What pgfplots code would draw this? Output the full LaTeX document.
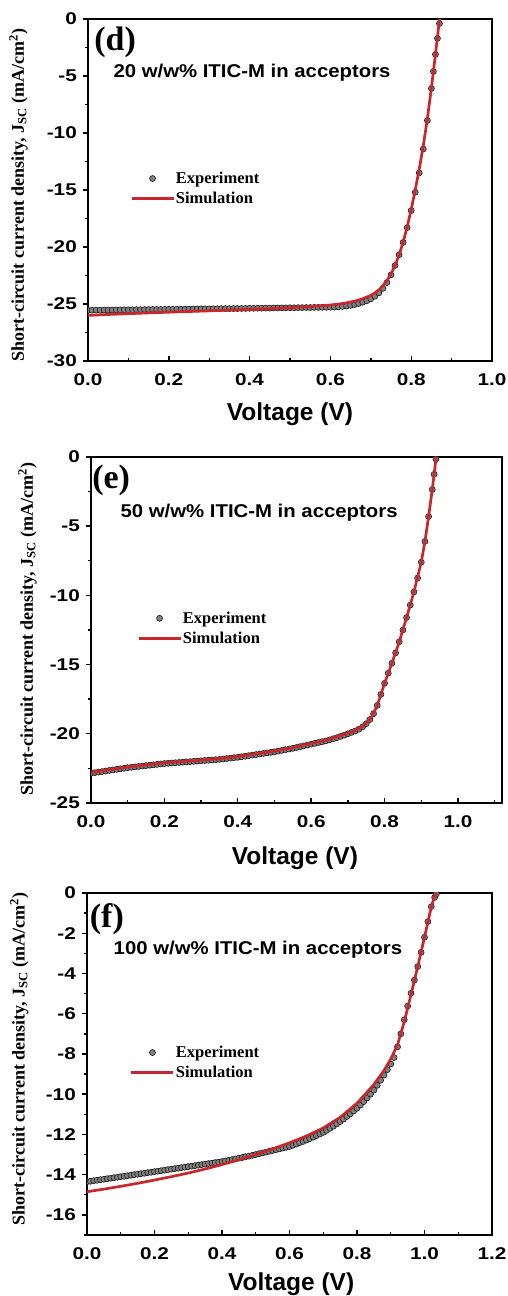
\documentclass[border=0pt]{standalone}
\usepackage{fontspec}
\setmainfont{Liberation Serif}
\newfontfamily\ticksf[FakeStretch=1.22]{Liberation Sans}
\newfontfamily\annsf[FakeStretch=1.1]{Liberation Sans}
\newfontfamily\labsf{Liberation Sans}
\usepackage{pgfplots}
\usepackage{pgfplotstable}
\pgfplotsset{compat=1.18}
\definecolor{simred}{RGB}{200,40,45}

% ---------- panel (d) ----------
\pgfplotstableread{
V J
0.00 -25.55
0.01 -25.55
0.02 -25.54
0.03 -25.54
0.04 -25.53
0.05 -25.53
0.06 -25.53
0.07 -25.52
0.08 -25.52
0.09 -25.51
0.10 -25.51
0.11 -25.51
0.12 -25.50
0.13 -25.50
0.14 -25.49
0.15 -25.49
0.16 -25.48
0.17 -25.48
0.18 -25.48
0.19 -25.47
0.20 -25.47
0.21 -25.46
0.22 -25.46
0.23 -25.46
0.24 -25.45
0.25 -25.45
0.26 -25.44
0.27 -25.44
0.28 -25.43
0.29 -25.43
0.30 -25.43
0.31 -25.42
0.32 -25.42
0.33 -25.41
0.34 -25.41
0.35 -25.41
0.36 -25.40
0.37 -25.40
0.38 -25.39
0.39 -25.39
0.40 -25.38
0.41 -25.38
0.42 -25.37
0.43 -25.37
0.44 -25.36
0.45 -25.36
0.46 -25.35
0.47 -25.35
0.48 -25.34
0.49 -25.34
0.50 -25.33
0.51 -25.33
0.52 -25.32
0.53 -25.32
0.54 -25.31
0.55 -25.31
0.56 -25.30
0.57 -25.30
0.58 -25.29
0.59 -25.29
0.60 -25.28
0.61 -25.27
0.62 -25.25
0.63 -25.22
0.64 -25.18
0.65 -25.12
0.66 -25.05
0.67 -24.96
0.68 -24.85
0.69 -24.72
0.70 -24.55
0.71 -24.32
0.72 -24.02
0.73 -23.63
0.74 -23.12
0.75 -22.45
0.76 -21.62
0.77 -20.68
0.78 -19.60
0.79 -18.30
0.80 -16.80
0.81 -15.20
0.82 -13.50
0.83 -11.40
0.84 -8.90
0.85 -6.10
0.855 -4.60
0.86 -3.10
0.865 -1.70
0.87 -0.40
}\expD
\pgfplotstableread{
V J
0.00 -26.00
0.05 -25.92
0.10 -25.85
0.15 -25.78
0.20 -25.72
0.25 -25.66
0.30 -25.60
0.35 -25.54
0.40 -25.48
0.45 -25.41
0.50 -25.33
0.55 -25.23
0.60 -25.09
0.62 -25.01
0.64 -24.90
0.66 -24.75
0.68 -24.54
0.70 -24.24
0.71 -24.03
0.72 -23.76
0.73 -23.40
0.74 -22.94
0.75 -22.36
0.76 -21.62
0.77 -20.70
0.78 -19.58
0.79 -18.24
0.80 -16.70
0.81 -15.00
0.82 -13.15
0.83 -11.10
0.84 -8.75
0.85 -6.05
0.86 -3.10
0.87 -0.05
0.8702 0.00
}\simD
% ---------- panel (e) ----------
\pgfplotstableread{
V J
0.00 -22.85
0.01 -22.81
0.02 -22.77
0.03 -22.73
0.04 -22.69
0.05 -22.65
0.06 -22.61
0.07 -22.57
0.08 -22.53
0.09 -22.49
0.10 -22.45
0.11 -22.42
0.12 -22.39
0.13 -22.36
0.14 -22.33
0.15 -22.30
0.16 -22.27
0.17 -22.24
0.18 -22.21
0.19 -22.18
0.20 -22.15
0.21 -22.13
0.22 -22.11
0.23 -22.09
0.24 -22.07
0.25 -22.05
0.26 -22.03
0.27 -22.01
0.28 -21.99
0.29 -21.97
0.30 -21.95
0.31 -21.93
0.32 -21.91
0.33 -21.89
0.34 -21.87
0.35 -21.85
0.36 -21.82
0.37 -21.79
0.38 -21.76
0.39 -21.73
0.40 -21.70
0.41 -21.66
0.42 -21.62
0.43 -21.58
0.44 -21.54
0.45 -21.50
0.46 -21.46
0.47 -21.42
0.48 -21.38
0.49 -21.34
0.50 -21.30
0.51 -21.25
0.52 -21.20
0.53 -21.15
0.54 -21.10
0.55 -21.05
0.56 -20.99
0.57 -20.93
0.58 -20.87
0.59 -20.81
0.60 -20.75
0.61 -20.69
0.62 -20.63
0.63 -20.57
0.64 -20.51
0.65 -20.44
0.66 -20.36
0.67 -20.28
0.68 -20.19
0.69 -20.10
0.70 -20.00
0.71 -19.90
0.72 -19.80
0.73 -19.67
0.74 -19.50
0.75 -19.27
0.76 -18.97
0.77 -18.55
0.78 -17.95
0.79 -17.15
0.80 -16.35
0.81 -15.62
0.82 -14.90
0.83 -14.15
0.84 -13.35
0.85 -12.50
0.86 -11.60
0.87 -10.70
0.88 -9.75
0.89 -8.75
0.90 -7.60
0.91 -6.10
0.92 -4.30
0.93 -2.35
0.935 -1.25
0.94 -0.15
}\expE
\pgfplotstableread{
V J
0.00 -22.80
0.05 -22.60
0.10 -22.40
0.15 -22.25
0.20 -22.10
0.25 -22.00
0.30 -21.90
0.35 -21.80
0.40 -21.65
0.45 -21.45
0.50 -21.25
0.55 -21.00
0.60 -20.70
0.65 -20.40
0.70 -19.96
0.72 -19.76
0.74 -19.47
0.76 -18.95
0.77 -18.53
0.78 -17.94
0.79 -17.15
0.80 -16.35
0.82 -14.90
0.84 -13.35
0.86 -11.60
0.88 -9.75
0.90 -7.60
0.91 -6.10
0.92 -4.30
0.93 -2.35
0.94 -0.15
0.9402 0.00
}\simE
% ---------- panel (f) ----------
\pgfplotstableread{
V J
0.00 -14.35
0.01 -14.33
0.02 -14.30
0.03 -14.28
0.04 -14.25
0.05 -14.23
0.06 -14.20
0.07 -14.18
0.08 -14.15
0.09 -14.13
0.10 -14.10
0.11 -14.08
0.12 -14.05
0.13 -14.03
0.14 -14.00
0.15 -13.98
0.16 -13.95
0.17 -13.93
0.18 -13.90
0.19 -13.88
0.20 -13.85
0.21 -13.83
0.22 -13.80
0.23 -13.78
0.24 -13.75
0.25 -13.73
0.26 -13.70
0.27 -13.68
0.28 -13.65
0.29 -13.63
0.30 -13.60
0.31 -13.58
0.32 -13.55
0.33 -13.53
0.34 -13.50
0.35 -13.48
0.36 -13.45
0.37 -13.43
0.38 -13.40
0.39 -13.38
0.40 -13.35
0.41 -13.32
0.42 -13.29
0.43 -13.25
0.44 -13.22
0.45 -13.18
0.46 -13.15
0.47 -13.11
0.48 -13.08
0.49 -13.04
0.50 -13.00
0.51 -12.96
0.52 -12.92
0.53 -12.88
0.54 -12.84
0.55 -12.80
0.56 -12.76
0.57 -12.72
0.58 -12.68
0.59 -12.64
0.60 -12.60
0.61 -12.54
0.62 -12.48
0.63 -12.41
0.64 -12.35
0.65 -12.28
0.66 -12.21
0.67 -12.14
0.68 -12.06
0.69 -11.98
0.70 -11.90
0.71 -11.80
0.72 -11.70
0.73 -11.59
0.74 -11.48
0.75 -11.36
0.76 -11.24
0.77 -11.11
0.78 -10.98
0.79 -10.84
0.80 -10.70
0.81 -10.54
0.82 -10.37
0.83 -10.19
0.84 -10.00
0.85 -9.80
0.86 -9.56
0.87 -9.31
0.88 -9.05
0.89 -8.78
0.90 -8.50
0.91 -8.18
0.92 -7.65
0.93 -7.00
0.94 -6.30
0.95 -5.62
0.96 -4.98
0.97 -4.33
0.98 -3.66
0.99 -2.95
1.00 -2.20
1.01 -1.42
1.02 -0.68
1.03 -0.22
1.035 -0.05
}\expF
\pgfplotstableread{
V J
0.00 -14.85
0.05 -14.72
0.10 -14.58
0.15 -14.43
0.20 -14.27
0.25 -14.10
0.30 -13.92
0.35 -13.72
0.40 -13.50
0.45 -13.26
0.50 -13.00
0.55 -12.72
0.60 -12.42
0.65 -12.08
0.70 -11.68
0.75 -11.15
0.80 -10.45
0.85 -9.52
0.88 -8.82
0.90 -8.25
0.92 -7.55
0.94 -6.40
0.96 -5.05
0.98 -3.65
1.00 -2.20
1.02 -0.70
1.03 -0.15
1.037 0.00
}\simF

\pgfplotsset{
  jv/.style={
    scale only axis, anchor=south west,
    clip marker paths=true,
    axis line style={line width=2.4bp},
    xtick pos=left, ytick pos=left,
    xtick align=inside, ytick align=outside,
    major tick length=5bp, minor tick length=3bp,
    every tick/.style={black, line width=1.4bp},
    tick label style={font=\ticksf\bfseries\fontsize{17bp}{17bp}\selectfont},
    xticklabel style={anchor=north, inner sep=0pt, yshift=-12bp},
    yticklabel style={anchor=east, inner sep=0pt, xshift=-6bp},
    xlabel={Voltage (V)},
    xlabel style={font=\labsf\bfseries\fontsize{24.5bp}{26bp}\selectfont, anchor=base},
    ylabel={Short-circuit current density, J\textsubscript{SC} (mA/cm\textsuperscript{2})},
    ylabel style={font=\bfseries\fontsize{18bp}{20bp}\selectfont, anchor=center},
    legend cell align=left,
    legend style={draw=none, fill=none, inner sep=0pt, anchor=north west,
      font=\bfseries\fontsize{16.5bp}{18bp}\selectfont, row sep=7bp,
      nodes={inner xsep=1bp, inner ysep=0pt}},
    legend image code/.code={\draw[mark repeat=2,mark phase=2,#1] plot coordinates {(0bp,0bp) (21bp,0bp) (42bp,0bp)};},
  },
  expstyle/.style={only marks, mark=*, mark size=3bp,
    mark options={fill=black!50, draw=black!90, line width=0.6bp}},
  simstyle/.style={simred, line width=2.7bp, no marks},
}
\tikzset{
  annA/.style={anchor=base, font=\bfseries\fontsize{34bp}{34bp}\selectfont},
  annB/.style={anchor=base, font=\annsf\bfseries\fontsize{18.5bp}{20bp}\selectfont},
}

\begin{document}
\begin{tikzpicture}
\useasboundingbox (0,0) rectangle (508bp,1296bp);

% (d)
\begin{axis}[jv, at={(88bp,935bp)}, width=404bp, height=342bp,
  xmin=0, xmax=1.0, ymin=-30, ymax=0,
  xtick={0,0.2,0.4,0.6,0.8,1.0}, xticklabels={0.0,0.2,0.4,0.6,0.8,1.0},
  minor xtick={0.1,0.3,0.5,0.7,0.9},
  ytick={-30,-25,-20,-15,-10,-5,0}, yticklabels={-30,-25,-20,-15,-10,-5,0},
  minor ytick={-27.5,-22.5,-17.5,-12.5,-7.5,-2.5},
  xlabel style={at={(axis description cs:0.5,-0.175)}},
  ylabel style={at={(axis description cs:-0.172,0.485)}},
  legend style={at={(axis description cs:0.104,0.553)}}]
\addplot[expstyle] table[x=V,y=J] {\expD};
\addlegendentry{Experiment}
\addplot[simstyle] table[x=V,y=J] {\simD};
\addlegendentry{Simulation}
\node[annA] at (axis description cs:0.067,0.909) {(d)};
\node[annB] at (axis description cs:0.406,0.8275) {20 w/w\% ITIC-M in acceptors};
\end{axis}

% (e)
\begin{axis}[jv, at={(91bp,493bp)}, width=411bp, height=346bp,
  xmin=0, xmax=1.12, ymin=-25, ymax=0,
  xtick={0,0.2,0.4,0.6,0.8,1.0}, xticklabels={0.0,0.2,0.4,0.6,0.8,1.0},
  minor xtick={0.1,0.3,0.5,0.7,0.9,1.1},
  ytick={-25,-20,-15,-10,-5,0}, yticklabels={-25,-20,-15,-10,-5,0},
  minor ytick={-22.5,-17.5,-12.5,-7.5,-2.5},
  xlabel style={at={(axis description cs:0.496,-0.179)}},
  ylabel style={at={(axis description cs:-0.1545,0.503)}},
  legend style={at={(axis description cs:0.112,0.553)}}]
\addplot[expstyle] table[x=V,y=J] {\expE};
\addlegendentry{Experiment}
\addplot[simstyle] table[x=V,y=J] {\simE};
\addlegendentry{Simulation}
\node[annA] at (axis description cs:0.049,0.910) {(e)};
\node[annB] at (axis description cs:0.409,0.824) {50 w/w\% ITIC-M in acceptors};
\end{axis}

% (f)
\begin{axis}[jv, at={(87bp,61bp)}, width=405bp, height=342bp,
  xmin=0, xmax=1.2, ymin=-17, ymax=0,
  xtick={0,0.2,0.4,0.6,0.8,1.0,1.2}, xticklabels={0.0,0.2,0.4,0.6,0.8,1.0,1.2},
  minor xtick={0.1,0.3,0.5,0.7,0.9,1.1},
  ytick={-16,-14,-12,-10,-8,-6,-4,-2,0}, yticklabels={-16,-14,-12,-10,-8,-6,-4,-2,0},
  minor ytick={-17,-15,-13,-11,-9,-7,-5,-3,-1},
  xlabel style={at={(axis description cs:0.504,-0.161)}},
  ylabel style={at={(axis description cs:-0.167,0.515)}},
  legend style={at={(axis description cs:0.106,0.553)}}]
\addplot[expstyle] table[x=V,y=J] {\expF};
\addlegendentry{Experiment}
\addplot[simstyle] table[x=V,y=J] {\simF};
\addlegendentry{Simulation}
\node[annA] at (axis description cs:0.049,0.898) {(f)};
\node[annB] at (axis description cs:0.422,0.819) {100 w/w\% ITIC-M in acceptors};
\end{axis}
\end{tikzpicture}
\end{document}
